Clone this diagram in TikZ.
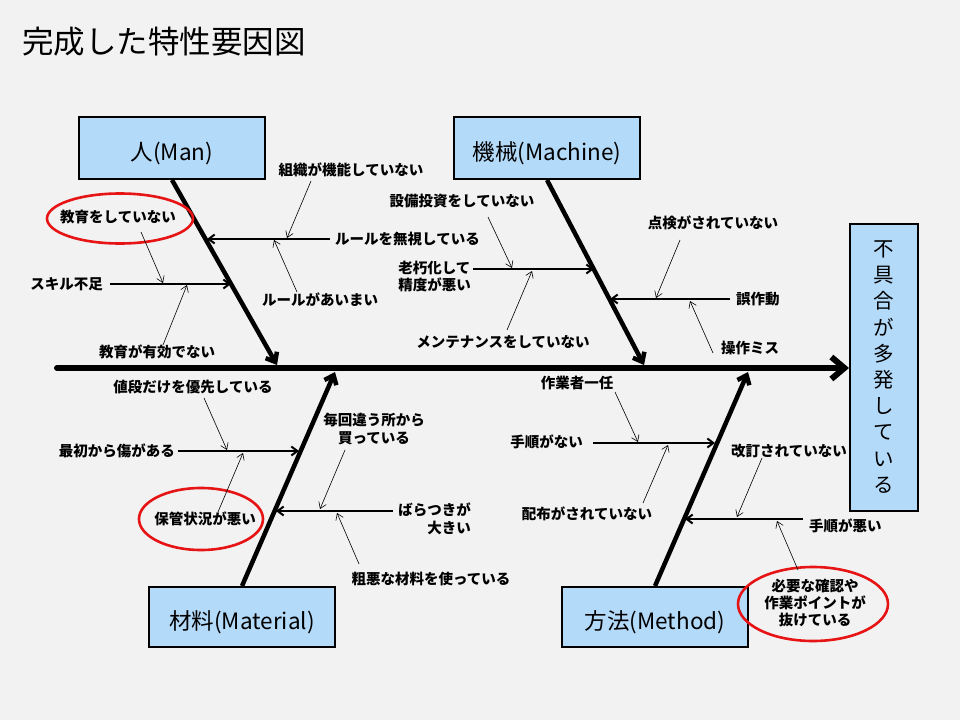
\documentclass[tikz,border=0pt]{standalone}
\usepackage{fontspec}
\setmainfont{Noto Sans CJK JP}
\usetikzlibrary{arrows.meta,calc}
\definecolor{bgc}{RGB}{242,242,242}
\definecolor{boxc}{RGB}{180,218,250}
\definecolor{ringc}{RGB}{230,20,20}
\tikzset{
  catbox/.style={draw=black, line width=2pt, fill=boxc, minimum width=186pt, minimum height=62pt, inner sep=0pt, text height=24pt, text depth=0pt, font=\fontsize{22.5}{26}\selectfont},
  spineline/.style={line width=6pt, line cap=round, -{Straight Barb[length=13pt,width=22pt]}},
  boneline/.style={line width=4.5pt, -{Straight Barb[length=8pt,width=13pt]}},
  subline/.style={line width=2pt, -{Straight Barb[length=6pt,width=9pt]}},
  thinline/.style={line width=0.6pt, -{Straight Barb[length=6pt,width=8pt]}},
  lbl/.style={inner sep=0pt, font=\fontsize{14.5}{17.5}\bfseries\selectfont},
  ring/.style={draw=ringc, line width=2.6pt},
}
\begin{document}
\begin{tikzpicture}[x=1pt,y=-1pt]
\fill[bgc] (0,0) rectangle (960,720);
\useasboundingbox (0,0) rectangle (960,720);

% title
\node[anchor=west, inner sep=0pt, font=\fontsize{31.5}{34}\selectfont] (title) at (22,41.5) {完成した特性要因図};

% category boxes
\node[catbox] (man) at (172,148) {人(Man)};
\node[catbox] (machine) at (547,148) {機械(Machine)};
\node[catbox, minimum height=60pt] (material) at (242,617) {材料(Material)};
\node[catbox, minimum height=60pt] (method) at (655,617) {方法(Method)};
\node[draw=black, line width=2pt, fill=boxc, minimum width=68pt, minimum height=287pt, inner sep=0pt, align=center, font=\fontsize{20.5}{26.2}\selectfont] (effect) at (884,367) {不\\具\\合\\が\\多\\発\\し\\て\\い\\る};

% spine
\coordinate (spinestart) at (57,368);
\draw[spineline] (spinestart) -- (spinestart -| effect.west);

% bone tips
\coordinate (mantip) at (277,365);
\coordinate (machtip) at (644,365);
\coordinate (mattip) at (335,372);
\coordinate (methtip) at (748,372);
\draw[boneline] (man.south) -- (mantip);
\draw[boneline] (machine.south) -- (machtip);
\draw[boneline] (material.north) -- (mattip);
\draw[boneline] (method.north) -- (methtip);

% ---------- Man ----------
\node[lbl, anchor=west] (rule) at (335,239) {ルールを無視している};
\coordinate (ruleS) at (330,239);
\coordinate (ruleE) at (207,239);
\draw[subline] (ruleS) -- (ruleE);
\node[lbl, anchor=east] (skill) at (103,284) {スキル不足};
\coordinate (skillS) at (110,284);
\coordinate (skillE) at (231,284);
\draw[subline] (skillS) -- (skillE);

\node[lbl] (soshiki) at (351,170) {組織が機能していない};
\coordinate (a1s) at (311,181); \coordinate (a1e) at (287,238);
\draw[thinline] (a1s) -- (a1e);
\node[lbl] (aimai) at (320,300) {ルールがあいまい};
\coordinate (a2s) at (297,292); \coordinate (a2e) at (274,240);
\draw[thinline] (a2s) -- (a2e);
\node[lbl] (kyoiku) at (118,217) {教育をしていない};
\draw[ring] (120,218.5) ellipse [x radius=73pt, y radius=25pt];
\coordinate (a3s) at (141,232); \coordinate (a3e) at (163,283);
\draw[thinline] (a3s) -- (a3e);
\node[lbl] (yuko) at (157,352) {教育が有効でない};
\coordinate (a4s) at (163,345); \coordinate (a4e) at (187,285);
\draw[thinline] (a4s) -- (a4e);

% ---------- Machine ----------
\node[lbl, anchor=east, align=left] (roukyu) at (471,276.5) {老朽化して\\精度が悪い};
\coordinate (rkS) at (473,269);
\coordinate (rkE) at (594,269);
\draw[subline] (rkS) -- (rkE);
\node[lbl, anchor=west] (gosa) at (736,299) {誤作動};
\coordinate (gsS) at (730,299);
\coordinate (gsE) at (610,299);
\draw[subline] (gsS) -- (gsE);

\node[lbl] (setsubi) at (462,201) {設備投資をしていない};
\coordinate (a5s) at (488,217); \coordinate (a5e) at (512,268);
\draw[thinline] (a5s) -- (a5e);
\node[lbl] (mainte) at (503,342) {メンテナンスをしていない};
\coordinate (a6s) at (507,330); \coordinate (a6e) at (532,271);
\draw[thinline] (a6s) -- (a6e);
\node[lbl] (tenken) at (713,223) {点検がされていない};
\coordinate (a7s) at (680,240); \coordinate (a7e) at (656,298);
\draw[thinline] (a7s) -- (a7e);
\node[lbl] (sousa) at (750,348) {操作ミス};
\coordinate (a8s) at (713,353); \coordinate (a8e) at (690,301);
\draw[thinline] (a8s) -- (a8e);

% ---------- Material ----------
\node[lbl, anchor=east] (kizu) at (175,451) {最初から傷がある};
\coordinate (kzS) at (178,451);
\coordinate (kzE) at (299,451);
\draw[subline] (kzS) -- (kzE);
\node[lbl, anchor=east, align=right] (bara) at (471,519) {ばらつきが\\大きい};
\coordinate (brS) at (393,511);
\coordinate (brE) at (276,511);
\draw[subline] (brS) -- (brE);

\node[lbl] (nedan) at (193,387) {値段だけを優先している};
\coordinate (a9s) at (204,398); \coordinate (a9e) at (227,450);
\draw[thinline] (a9s) -- (a9e);
\node[lbl] (hokan) at (205,519) {保管状況が悪い};
\draw[ring] (201,519) ellipse [x radius=62pt, y radius=31pt];
\coordinate (a10s) at (218,512); \coordinate (a10e) at (243,453);
\draw[thinline] (a10s) -- (a10e);
\node[lbl, align=center] (maikai) at (374,429) {毎回違う所から\\買っている};
\coordinate (a11s) at (345,450); \coordinate (a11e) at (320,509);
\draw[thinline] (a11s) -- (a11e);
\node[lbl] (soaku) at (431,579) {粗悪な材料を使っている};
\coordinate (a12s) at (359,564); \coordinate (a12e) at (337,513);
\draw[thinline] (a12s) -- (a12e);

% ---------- Method ----------
\node[lbl, anchor=east] (tejun) at (583,442) {手順がない};
\coordinate (tjS) at (593,443);
\coordinate (tjE) at (715,443);
\draw[subline] (tjS) -- (tjE);
\node[lbl, anchor=west] (waru) at (809,526) {手順が悪い};
\coordinate (wrS) at (803,519);
\coordinate (wrE) at (685,519);
\draw[subline] (wrS) -- (wrE);

\node[lbl] (sagyo) at (577,383) {作業者一任};
\coordinate (a13s) at (615,392); \coordinate (a13e) at (638,442);
\draw[thinline] (a13s) -- (a13e);
\node[lbl] (haifu) at (587,514) {配布がされていない};
\coordinate (a14s) at (643,503); \coordinate (a14e) at (668,445);
\draw[thinline] (a14s) -- (a14e);
\node[lbl] (kaitei) at (789,451) {改訂されていない};
\coordinate (a15s) at (762,458); \coordinate (a15e) at (737,517);
\draw[thinline] (a15s) -- (a15e);
\node[lbl, align=center, font=\fontsize{14.5}{17}\bfseries\selectfont] (hitsuyo) at (815,603) {必要な確認や\\作業ポイントが\\抜けている};
\draw[ring] (813,604) ellipse [x radius=75pt, y radius=37pt];
\coordinate (a16s) at (798,570); \coordinate (a16e) at (777,521);
\draw[thinline] (a16s) -- (a16e);
\end{tikzpicture}
\end{document}
